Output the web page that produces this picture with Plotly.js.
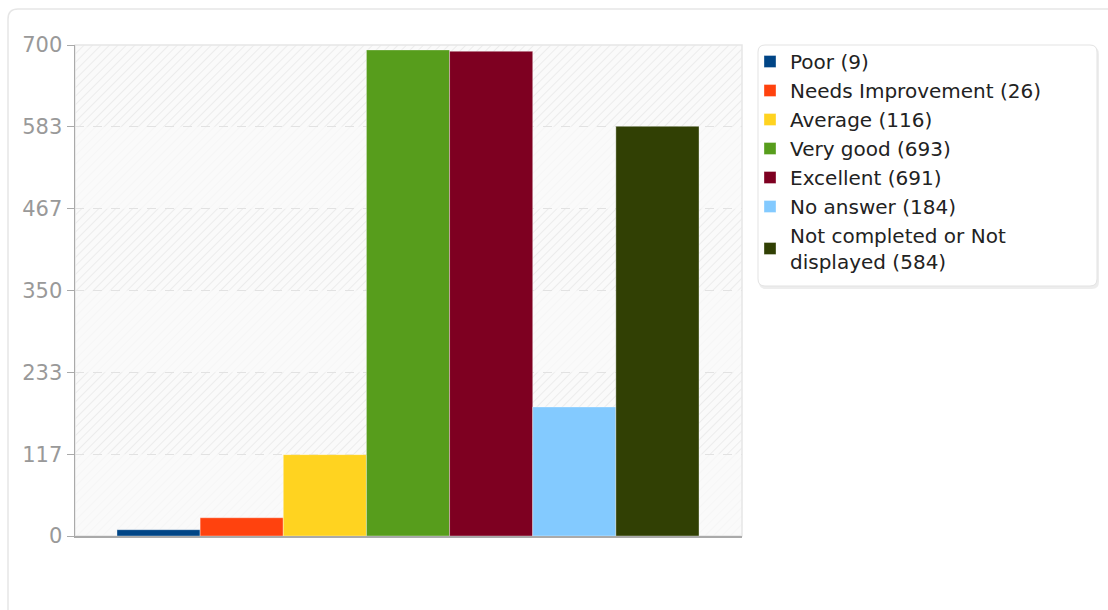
<!DOCTYPE html>
<html>
<head>
<meta charset="utf-8">
<script src="https://cdn.plot.ly/plotly-3.0.1.min.js"></script>
<style>
  html, body { margin: 0; padding: 0; background: #ffffff; }
  #chart { width: 1108px; height: 610px; }
</style>
</head>
<body>
<div id="chart"></div>
<script>
// ---- data ----
const categories = ["Poor", "Needs Improvement", "Average", "Very good", "Excellent", "No answer", "Not completed or Not displayed"];
const counts = [9, 26, 116, 693, 691, 184, 584];
const colors = ["#004586", "#ff420e", "#ffd320", "#579d1c", "#7e0021", "#83caff", "#314004"];
const tickLabels = ["0", "117", "233", "350", "467", "583", "700"];
const yMax = 700;

// ---- geometry (layout only) ----
const W = 1108, H = 610;
const M = { l: 75, r: 366, t: 45, b: 74 };
const PW = W - M.l - M.r, PH = H - M.t - M.b;
const px = x => (x - M.l) / PW;           // pixel -> paper x
const py = y => (H - M.b - y) / PH;       // pixel -> paper y

function roundRect(x0, y0, x1, y1, r) {
  const X = px, Y = py;
  return `M${X(x0 + r)},${Y(y0)} L${X(x1 - r)},${Y(y0)} Q${X(x1)},${Y(y0)} ${X(x1)},${Y(y0 + r)} ` +
         `L${X(x1)},${Y(y1 - r)} Q${X(x1)},${Y(y1)} ${X(x1 - r)},${Y(y1)} ` +
         `L${X(x0 + r)},${Y(y1)} Q${X(x0)},${Y(y1)} ${X(x0)},${Y(y1 - r)} ` +
         `L${X(x0)},${Y(y0 + r)} Q${X(x0)},${Y(y0)} ${X(x0 + r)},${Y(y0)} Z`;
}

function wrap(text, maxChars) {
  const words = text.split(" ");
  const lines = [];
  let cur = "";
  words.forEach(w => {
    const next = cur ? cur + " " + w : w;
    if (next.length > maxChars && cur) { lines.push(cur); cur = w; }
    else cur = next;
  });
  if (cur) lines.push(cur);
  return lines.join("<br>");
}

const tickVals = tickLabels.map((_, i) => i * yMax / (tickLabels.length - 1));

const traces = categories.map((c, i) => ({
  type: "bar",
  name: wrap(`${c} (${counts[i]})`, 22),
  x: [c],
  y: [counts[i]],
  legendgroup: "g" + i,
  marker: { color: colors[i], line: { color: "rgba(255,255,255,0.35)", width: 1 } },
  hoverinfo: "skip"
}));

// hatched background
const hatchSvg =
  `<svg xmlns='http://www.w3.org/2000/svg' width='${PW}' height='${PH}'>` +
  `<defs><pattern id='h' width='6' height='6' patternUnits='userSpaceOnUse' patternTransform='rotate(45)'>` +
  `<line x1='0' y1='0' x2='0' y2='6' stroke='#e9e9e9' stroke-width='1.6'/></pattern></defs>` +
  `<rect width='100%' height='100%' fill='url(#h)'/></svg>`;
const hatchUri = "data:image/svg+xml;charset=utf-8," + encodeURIComponent(hatchSvg);

const shapes = [];
// outer container
shapes.push({ type: "path", xref: "paper", yref: "paper", layer: "below",
  path: roundRect(8, 9, 1130, 640, 10), line: { color: "#e6e6e6", width: 1.5 }, fillcolor: "rgba(0,0,0,0)" });
// lighter alternate bands
for (let i = 0; i < tickVals.length - 1; i += 2) {
  shapes.push({ type: "rect", xref: "paper", yref: "y", layer: "below",
    x0: 0, x1: 1, y0: tickVals[i], y1: tickVals[i + 1],
    fillcolor: "rgba(250,250,250,0.72)", line: { width: 0 } });
}
// plot frame (top/right light border)
shapes.push({ type: "rect", xref: "paper", yref: "paper", layer: "below",
  x0: 0, x1: 1, y0: 0, y1: 1, line: { color: "#e6e6e6", width: 1.5 }, fillcolor: "rgba(0,0,0,0)" });
// legend box shadow + box
shapes.push({ type: "path", xref: "paper", yref: "paper", layer: "above",
  path: roundRect(759, 47, 1099, 289, 7), line: { width: 0 }, fillcolor: "rgba(0,0,0,0.07)" });
shapes.push({ type: "path", xref: "paper", yref: "paper", layer: "above",
  path: roundRect(758, 45, 1097, 286, 7), line: { color: "#e3e3e3", width: 1 }, fillcolor: "#ffffff" });

const layout = {
  width: W, height: H,
  margin: M,
  paper_bgcolor: "#ffffff",
  plot_bgcolor: "#fafafa",
  font: { family: "DejaVu Sans", size: 20, color: "#222" },
  barmode: "overlay",
  bargap: 0,
  showlegend: true,
  legend: {
    x: px(750), xanchor: "left",
    y: py(42), yanchor: "top",
    bgcolor: "rgba(0,0,0,0)", borderwidth: 0,
    font: { family: "DejaVu Sans", size: 20, color: "#222" },
    traceorder: "normal", tracegroupgap: 0
  },
  xaxis: {
    type: "category",
    categoryorder: "array", categoryarray: categories,
    range: [-1.005, 7.017],
    showticklabels: false, ticks: "",
    showgrid: false, zeroline: false,
    showline: true, linecolor: "#aaaaaa", linewidth: 1.5,
    fixedrange: true
  },
  yaxis: {
    range: [0, yMax],
    tickmode: "array", tickvals: tickVals, ticktext: tickLabels,
    ticks: "outside", ticklen: 7, tickcolor: "#aaaaaa", tickwidth: 1,
    tickfont: { family: "DejaVu Sans", size: 21, color: "#999999" },
    showgrid: true, gridcolor: "#e2e2e2", griddash: "dash", gridwidth: 1,
    zeroline: false,
    showline: true, linecolor: "#aaaaaa", linewidth: 1.5,
    fixedrange: true
  },
  images: [{
    source: hatchUri, xref: "paper", yref: "paper",
    x: 0, y: 1, sizex: 1, sizey: 1, xanchor: "left", yanchor: "top",
    sizing: "stretch", layer: "below"
  }],
  shapes: shapes
};

Plotly.newPlot("chart", traces, layout, { displayModeBar: false, staticPlot: true });
</script>
</body>
</html>
